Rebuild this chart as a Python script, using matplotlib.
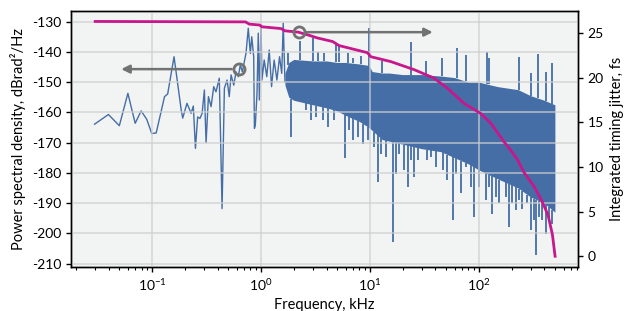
import matplotlib
matplotlib.use("Agg")
import matplotlib.pyplot as plt
import numpy as np

plt.rcParams['font.family'] = ['Lato', 'DejaVu Sans']
plt.rcParams['mathtext.fontset'] = 'custom'
plt.rcParams['mathtext.rm'] = 'Lato'
plt.rcParams['axes.unicode_minus'] = False

# low-frequency part of the phase noise spectrum (kHz, dBrad^2/Hz)
freq_lo = [0.0296, 0.0397, 0.050, 0.0599, 0.0699, 0.0793, 0.0893, 0.0993, 0.109,
           0.130, 0.139, 0.159, 0.185, 0.191, 0.209, 0.228, 0.239, 0.250, 0.262,
           0.275, 0.288, 0.302, 0.313, 0.329, 0.348, 0.368, 0.386, 0.414, 0.439,
           0.461, 0.488, 0.511, 0.531, 0.562, 0.590, 0.619, 0.646, 0.674, 0.703,
           0.728, 0.764, 0.798, 0.822, 0.857, 0.870, 0.887, 0.919, 0.944, 0.966,
           1.00, 1.02, 1.07, 1.13, 1.19, 1.25, 1.32, 1.40, 1.48, 1.55, 1.60, 1.66]
psd_lo = [-163.9, -160.7, -164.4, -153.7, -163.6, -159.5, -162.3, -167.0, -166.8,
          -154.8, -153.9, -141.6, -159.2, -161.9, -157.0, -160.3, -157.9, -171.9, -161.5,
          -162.0, -160.3, -152.6, -170.0, -154.8, -158.1, -151.5, -153.2, -148.7, -191.8,
          -152.0, -149.3, -154.8, -147.6, -151.0, -146.6, -148.2, -144.3, -146.6, -143.2,
          -140.5, -132.2, -140.5, -135.0, -141.6, -165.3, -164.2, -153.7, -133.8, -155.9,
          -131.1, -149.3, -142.7, -148.2, -139.4, -151.5, -142.7, -149.3, -141.6, -147.1,
          -130.5, -150.0]

# dense part of the spectrum, traced as the solid core between two envelopes
freq_env = [1.66, 1.8, 2.0, 3.0, 4.0, 5.0, 6.0, 8.0, 9.8, 10.5, 13, 15, 20, 30, 45,
            60, 80, 100, 150, 230, 300, 400, 500]
psd_top = [-147, -143.5, -142.5, -143, -143, -143.5, -143.5, -144, -144.5, -146.5,
           -147, -147, -147.5, -147.5, -148, -148.5, -150, -150, -151.5, -152.5,
           -154.5, -156, -157.5]
psd_bottom = [-151, -155, -156, -157.5, -158.5, -159.5, -161, -163, -165, -166, -169,
              -169.5, -170.5, -172, -173, -175, -177, -179, -182, -185, -188, -190, -193]

# spurs and teeth sticking out of the core
spur_up_freq = [1.76, 2.28, 2.98, 3.31, 3.81, 4.87, 5.23, 6.24, 6.94, 8.27, 9.86,
                13, 23.7, 33, 46.4, 63, 76, 118, 123, 232, 300, 350, 418, 475]
spur_up_db = [-140.5, -136.5, -135.4, -139.9, -140.5, -137.2, -137.7, -140.5, -142.1,
              -141.5, -132.2, -143, -136.6, -143, -142.1, -138.8, -141, -140.2, -142,
              -141.6, -147, -140.8, -146.5, -143.8]
spur_dn_freq = [1.88, 2.59, 2.87, 3.20, 3.68, 4.09, 4.71, 5.94, 6.46, 6.94, 7.71,
                8.57, 9.52, 10.95, 11.75, 12.6, 14.0, 16.2, 17.3, 18.6, 20.7, 22.2,
                23.8, 25.5, 27.4, 33.8, 36.3, 40.3, 46.5, 51.6, 57.4, 61.5, 68.4, 76,
                84.5, 90.6, 100.7, 116, 124, 133, 143, 154, 177, 190, 204, 218, 234,
                252, 280, 300, 322, 338, 357, 384, 412, 442, 474]
spur_dn_db = [-168.1, -159.2, -162.6, -161.5, -162.6, -164.8, -162.6, -175.2, -165.9,
              -169.2, -168.1, -170.3, -169.2, -171.4, -183, -173.6, -174.7, -202.8,
              -180.2, -173.6, -179.1, -184.6, -175.8, -181.3, -175.8, -175.8, -174.7,
              -178, -179.1, -182.4, -195.7, -180.2, -186.8, -178, -184.6, -194.6,
              -184.6, -189.0, -184.6, -193.5, -187.9, -190.1, -187.9, -197.9, -190.1,
              -192.4, -189, -191.8, -190.1, -199.0, -195.7, -207.3, -194.6, -195.7,
              -200.1, -194.6, -196.8]

# integrated timing jitter (kHz, fs)
freq_jit = [0.03, 0.72, 0.78, 0.97, 1.02, 1.53, 1.66, 2.2, 2.68, 3.3, 4.55, 5.2,
            9.5, 10.2, 15.6, 25.5, 38.8, 51.7, 73.7, 104, 129, 171, 196, 227, 260,
            323, 376, 433, 475, 502]
jitter_fs = [26.3, 26.25, 26.0, 25.9, 25.7, 25.5, 25.25, 25.1, 24.8, 24.45, 24.05,
             23.6, 22.8, 22.35, 21.8, 20.9, 19.95, 18.8, 17.1, 16.0, 14.9, 12.8,
             11.9, 10.8, 9.4, 7.8, 6.3, 4.6, 2.4, 0.0]

blue = '#456ea6'
magenta = '#c8168c'
grey = '#727272'

fig = plt.figure(figsize=(6.33, 3.11), dpi=100)
ax = fig.add_axes([0.1122, 0.1415, 0.8009, 0.824])
ax.set_facecolor('#f2f3f3')
ax.set_xscale('log')

ax.plot(freq_lo, psd_lo, color=blue, lw=1.0, zorder=2)
ax.fill_between(freq_env, psd_bottom, psd_top, color=blue, lw=0, zorder=2)

logf = np.log10(freq_env)
up_base = np.interp(np.log10(spur_up_freq), logf, psd_top)
dn_base = np.interp(np.log10(spur_dn_freq), logf, psd_bottom)
ax.vlines(spur_up_freq, up_base, spur_up_db, color=blue, lw=1.3, zorder=2)
ax.vlines(spur_dn_freq, spur_dn_db, dn_base, color=blue, lw=1.3, zorder=2)

ax.set_xlim(0.018, 815)
ax.set_ylim(-211.1, -126.4)
ax.set_yticks(np.arange(-210, -129, 10))
ax.grid(True, which='major', color='#cfcfcf', alpha=0.7, lw=1.3)
ax.set_axisbelow(False)
for g in ax.get_xgridlines() + ax.get_ygridlines():
    g.set_zorder(2.5)

ax.set_xlabel('Frequency, kHz', fontsize=10.5)
ax.set_ylabel('Power spectral density, dBrad²/Hz', fontsize=10.5)
ax.tick_params(which='both', direction='out', labelsize=10)
ax.tick_params(which='major', length=3.5, width=1)
ax.tick_params(which='minor', length=2, width=0.8)

ax2 = ax.twinx()
ax2.plot(freq_jit, jitter_fs, color=magenta, lw=2.0, zorder=3)
ax2.set_ylim(-1.2, 27.5)
ax2.set_yticks(np.arange(0, 26, 5))
ax2.set_ylabel('Integrated timing jitter, fs', fontsize=10.5)
ax2.tick_params(direction='out', length=3.5, width=1, labelsize=10)

for a in (ax, ax2):
    for s in a.spines.values():
        s.set_linewidth(1.0)

# markers showing which curve belongs to which axis
ax.plot([0.622], [-145.7], 'o', ms=8, mfc='none', mec=grey, mew=2, zorder=4)
ax.annotate('', xy=(0.052, -145.7), xytext=(0.622, -145.7),
            arrowprops=dict(arrowstyle='-|>', color=grey, lw=1.8,
                            mutation_scale=12, shrinkA=5, shrinkB=0), zorder=4)
ax2.plot([2.21], [25.1], 'o', ms=8, mfc='none', mec=grey, mew=2, zorder=4)
ax2.annotate('', xy=(37.8, 25.1), xytext=(2.21, 25.1),
             arrowprops=dict(arrowstyle='-|>', color=grey, lw=1.8,
                             mutation_scale=12, shrinkA=5, shrinkB=0), zorder=4)

fig.savefig('out.png', dpi=100)
